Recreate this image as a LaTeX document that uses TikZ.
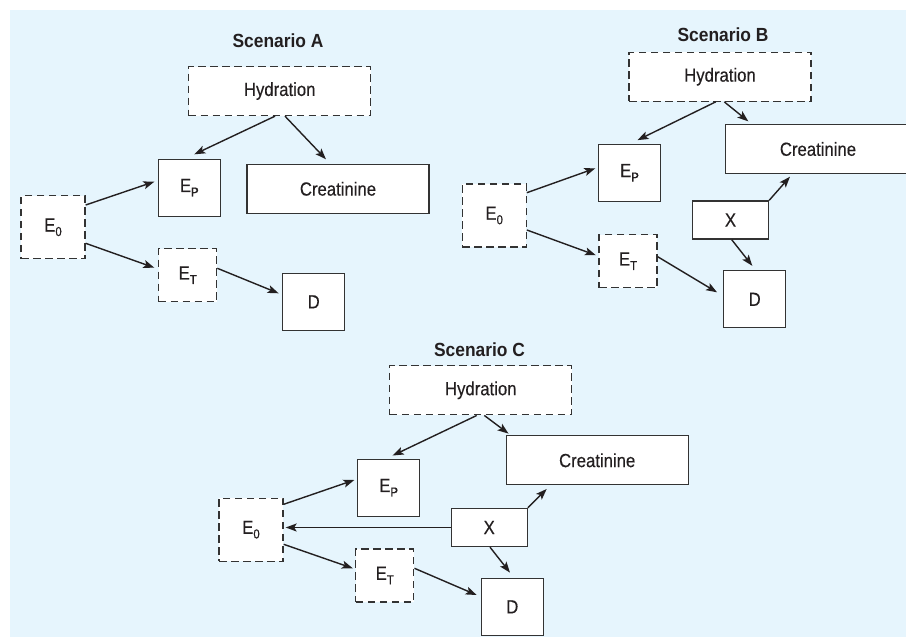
\documentclass[tikz,border=0pt]{standalone}
\usepackage{fontspec}
\setmainfont{Liberation Sans}[FakeStretch=0.88,FakeBold=0.3]
\newfontfamily\titlefont{Liberation Sans}[FakeStretch=0.915]
\usetikzlibrary{calc,arrows.meta}
\definecolor{bgblue}{HTML}{E6F5FD}
\definecolor{ink}{HTML}{231F20}
\definecolor{edge}{HTML}{333333}
\newcommand\subs[1]{\raisebox{-4.5pt}{\fontsize{13}{13}\selectfont #1}}
\tikzset{
  box/.style={draw=edge, line width=1.35pt, fill=white, inner sep=0pt,
    text=ink, font=\fontsize{19}{21}\selectfont},
  dbox/.style={box, dash pattern=on 7.5pt off 4.5pt},
  wide/.style={minimum width=182pt, minimum height=49pt},
  epsz/.style={minimum width=62pt, minimum height=57pt},
  e0sz/.style={minimum width=64pt, minimum height=63pt},
  etsz/.style={minimum width=58pt, minimum height=53pt},
  dsz/.style={minimum width=62pt, minimum height=57pt},
  xsz/.style={minimum width=76pt, minimum height=38pt},
  ttl/.style={text=ink, inner sep=0pt, font=\fontsize{19}{21}\selectfont\titlefont\bfseries},
  arr/.style={draw=ink, line width=1.4pt, -{Stealth[length=11pt,width=8pt,inset=2.5pt]}}
}
\begin{document}
\begin{tikzpicture}[x=1pt,y=-1pt]
\useasboundingbox (0,0) rectangle (906,637);
\fill[bgblue] (10,10) rectangle (906,637);

% Scenario A
\node[ttl] (titleA) at (278,40.7) {Scenario A};
\node[dbox,wide] (hA) at (279.7,91) {Hydration};
\node[box,epsz] (epA) at (189.3,187.7) {E\subs{P}};
\node[box,wide] (crA) at (338,188.8) {Creatinine};
\node[dbox,e0sz] (e0A) at (53,227.3) {E\subs{0}};
\node[dbox,etsz] (etA) at (187.7,275.2) {E\subs{T}};
\node[box,dsz] (dA) at (313.7,301.8) {D};
\draw[arr] ($(hA.south)+(-4.7,0)$) -- ($(epA.north)+(5,-4.2)$);
\draw[arr] ($(hA.south)+(5.3,0)$) -- ($(crA.north)+(-12,-4.3)$);
\draw[arr] ($(e0A.east)+(0,-22.3)$) -- ($(epA.west)+(-3.3,-6)$);
\draw[arr] ($(e0A.east)+(0,16)$) -- ($(etA.west)+(-3.7,-7.5)$);
\draw[arr] ($(etA.east)+(0,-6.9)$) -- ($(dA.west)+(-3.4,-8.5)$);

% Scenario B
\node[ttl] (titleB) at (723,35) {Scenario B};
\node[dbox,wide] (hB) at (720,76.7) {Hydration};
\node[box,epsz] (epB) at (629.5,172.8) {E\subs{P}};
\node[box,wide,minimum width=185pt] (crB) at (818,149) {Creatinine};
\node[dbox,e0sz] (e0B) at (494.2,215.5) {E\subs{0}};
\node[dbox,etsz] (etB) at (628,261.2) {E\subs{T}};
\node[box,xsz] (xB) at (730.5,220) {X};
\node[box,dsz] (dB) at (754.7,299.3) {D};
\draw[arr] ($(hB.south)+(-4.3,0)$) -- ($(epB.north)+(8,-3.5)$);
\draw[arr] ($(hB.south)+(4.3,0)$) -- ($(crB.north west)+(23.5,-2.5)$);
\draw[arr] ($(e0B.east)+(0,-22.8)$) -- ($(epB.west)+(-2.5,-4.5)$);
\draw[arr] ($(e0B.east)+(0,14.5)$) -- ($(etB.west)+(-2.5,-6)$);
\draw[arr] ($(etB.east)+(0,-4.5)$) -- ($(dB.west)+(-6,-7)$);
\draw[arr] (xB.north east) -- ($(crB.south)+(-28,2.5)$);
\draw[arr] ($(xB.south)+(1.2,0)$) -- ($(dB.north)+(-2.4,-4.3)$);

% Scenario C
\node[ttl] (titleC) at (479.5,349.7) {Scenario C};
\node[dbox,wide] (hC) at (480.8,390.3) {Hydration};
\node[box,epsz] (epC) at (388.7,487.7) {E\subs{P}};
\node[box,wide] (crC) at (597.2,460.3) {Creatinine};
\node[dbox,e0sz] (e0C) at (251,529.7) {E\subs{0}};
\node[box,xsz] (xC) at (489.2,527.5) {X};
\node[dbox,etsz] (etC) at (384.8,575.5) {E\subs{T}};
\node[box,dsz] (dC) at (512.3,606.8) {D};
\draw[arr] ($(hC.south)+(-4.1,0)$) -- ($(epC.north)+(4,-3)$);
\draw[arr] ($(hC.south)+(3.5,0)$) -- ($(crC.north west)+(3,-1.5)$);
\draw[arr] ($(e0C.east)+(0,-25.4)$) -- ($(epC.west)+(-2.7,-7.7)$);
\draw[arr] (xC.west) -- ($(e0C.east |- xC.west)+(2,0)$);
\draw[arr] ($(e0C.east)+(0,14.6)$) -- ($(etC.west)+(-2.3,-7.2)$);
\draw[arr] ($(etC.east)+(0,-7.2)$) -- ($(dC.west)+(-4,-11.8)$);
\draw[arr] (xC.north east) -- ($(crC.south)+(-50.5,3.5)$);
\draw[arr] ($(xC.south)+(0.8,0)$) -- ($(dC.north)+(-2.3,-5)$);
\end{tikzpicture}
\end{document}
